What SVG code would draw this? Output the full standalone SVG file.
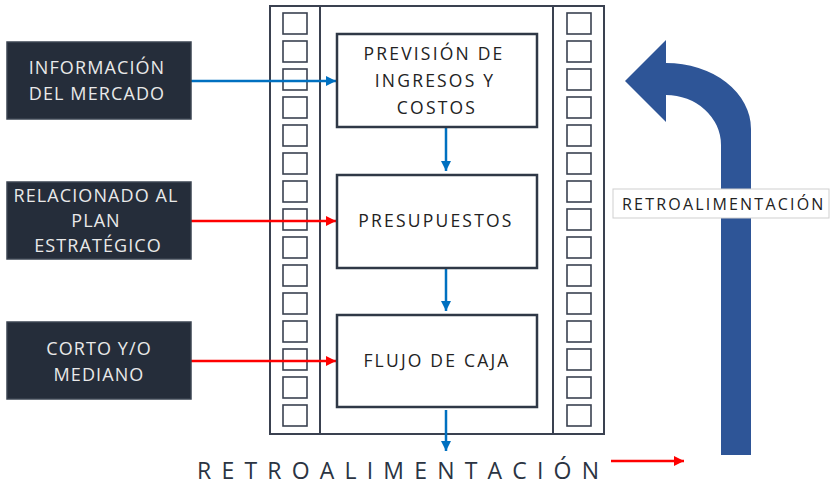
<svg xmlns="http://www.w3.org/2000/svg" width="830" height="486" viewBox="0 0 830 486">
<defs>
<style>
.frame{fill:none;stroke:#3a4150;stroke-width:2}
.sq{fill:#fff;stroke:#3a4150;stroke-width:1.6}
.box{fill:#fff;stroke:#2f3846;stroke-width:2.5}
.dbox{fill:#252d3a;stroke:#3b4452;stroke-width:1.5}
.lt{font-family:"Open Sans","Noto Sans",sans-serif;font-size:18px;fill:#e9e9e9;text-anchor:middle;letter-spacing:1.1px}
.bt{font-family:"Open Sans","Noto Sans",sans-serif;font-size:17.5px;fill:#222;text-anchor:middle;letter-spacing:2.2px}
.blue{stroke:#0070c0;stroke-width:2.5;fill:none}
.red{stroke:#ff0000;stroke-width:2.5;fill:none}
</style>
<marker id="ab" viewBox="0 0 10 10" refX="10" refY="5" markerWidth="4" markerHeight="4" orient="auto" markerUnits="strokeWidth"><path d="M0,0L10,5L0,10z" fill="#0070c0"/></marker>
<marker id="ar" viewBox="0 0 10 10" refX="10" refY="5" markerWidth="4" markerHeight="4" orient="auto" markerUnits="strokeWidth"><path d="M0,0L10,5L0,10z" fill="#ff0000"/></marker>
<g id="sqcol">
<rect class="sq" x="0" y="13" width="24" height="21"/>
<rect class="sq" x="0" y="41" width="24" height="21"/>
<rect class="sq" x="0" y="69" width="24" height="21"/>
<rect class="sq" x="0" y="97" width="24" height="21"/>
<rect class="sq" x="0" y="125" width="24" height="21"/>
<rect class="sq" x="0" y="153" width="24" height="21"/>
<rect class="sq" x="0" y="181" width="24" height="21"/>
<rect class="sq" x="0" y="209" width="24" height="21"/>
<rect class="sq" x="0" y="237" width="24" height="21"/>
<rect class="sq" x="0" y="265" width="24" height="21"/>
<rect class="sq" x="0" y="293" width="24" height="21"/>
<rect class="sq" x="0" y="321" width="24" height="21"/>
<rect class="sq" x="0" y="349" width="24" height="21"/>
<rect class="sq" x="0" y="377" width="24" height="21"/>
<rect class="sq" x="0" y="405" width="24" height="21"/>
</g>
</defs>
<rect width="830" height="486" fill="#fff"/>

<g id="film">
<rect class="frame" x="270" y="6" width="334" height="428"/>
<line class="frame" x1="320" y1="6" x2="320" y2="434"/>
<line class="frame" x1="553" y1="6" x2="553" y2="434"/>
<use href="#sqcol" x="283"/>
<use href="#sqcol" x="567"/>
</g>

<g id="connectors">
<line class="blue" x1="191" y1="81" x2="336" y2="81" marker-end="url(#ab)"/>
<line class="red" x1="191" y1="221" x2="336" y2="221" marker-end="url(#ar)"/>
<line class="red" x1="191" y1="361" x2="336" y2="361" marker-end="url(#ar)"/>
<line class="blue" x1="446" y1="128" x2="446" y2="171" marker-end="url(#ab)"/>
<line class="blue" x1="446" y1="269" x2="446" y2="311" marker-end="url(#ab)"/>
<line class="blue" x1="446" y1="410" x2="446" y2="451" marker-end="url(#ab)"/>
<line class="red" x1="611" y1="461" x2="684" y2="461" marker-end="url(#ar)"/>
</g>

<g id="n-info">
<rect class="dbox" x="7" y="42" width="184" height="77"/>
<text class="lt" x="97" y="74">INFORMACIÓN</text>
<text class="lt" x="97" y="100">DEL MERCADO</text>
</g>
<g id="n-plan">
<rect class="dbox" x="7" y="182" width="184" height="77"/>
<text class="lt" x="96" y="202">RELACIONADO AL</text>
<text class="lt" x="96" y="227">PLAN</text>
<text class="lt" x="98" y="252">ESTRATÉGICO</text>
</g>
<g id="n-corto">
<rect class="dbox" x="7" y="322" width="184" height="77"/>
<text class="lt" x="99" y="355">CORTO Y/O</text>
<text class="lt" x="99" y="381">MEDIANO</text>
</g>

<g id="n-prevision">
<rect class="box" x="337" y="34" width="200" height="93"/>
<text class="bt" x="434" y="60">PREVISIÓN DE</text>
<text class="bt" x="435" y="87">INGRESOS Y</text>
<text class="bt" x="437" y="114">COSTOS</text>
</g>
<g id="n-presupuestos">
<rect class="box" x="337" y="175" width="200" height="93"/>
<text class="bt" x="436" y="227">PRESUPUESTOS</text>
</g>
<g id="n-flujo">
<rect class="box" x="337" y="315" width="200" height="92"/>
<text class="bt" x="437" y="367">FLUJO DE CAJA</text>
</g>

<g id="feedback-arrow">
<path d="M721,455 L721,145 A55,50 0 0 0 666,95 L666,122 L625,81 L666,40 L666,63 A85,66 0 0 1 751,129 L751,455 Z" fill="#2e5597"/>
</g>
<g id="feedback-label">
<rect x="613" y="189" width="216" height="29" fill="#fff" stroke="#cfcfcf" stroke-width="1"/>
<text x="622" y="210" font-family="'Open Sans','Noto Sans',sans-serif" font-size="16" fill="#222" letter-spacing="2.2">RETROALIMENTACIÓN</text>
</g>
<g id="bottom-label">
<text x="197" y="479" font-family="'Open Sans','Noto Sans',sans-serif" font-size="23" fill="#2b3442" letter-spacing="10.2">RETROALIMENTACIÓN</text>
</g>
</svg>
